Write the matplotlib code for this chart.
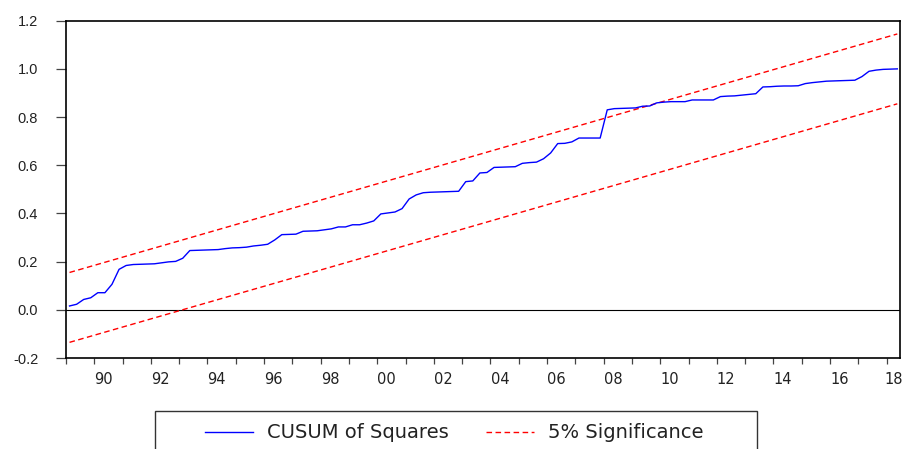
"""Recreates an EViews style CUSUM of squares stability plot."""

import matplotlib

matplotlib.use("Agg")

import matplotlib.pyplot as plt
import numpy as np
import pandas as pd
from matplotlib.lines import Line2D
from matplotlib.patches import Rectangle


# quarterly sample, 1989Q1 .. 2018Q2
START_QUARTER = "1989Q1"
CUSUM_SQ = [
    0.016, 0.023, 0.043, 0.050, 0.071, 0.071, 0.106, 0.168, 0.184, 0.188,
    0.189, 0.190, 0.191, 0.195, 0.199, 0.201, 0.214, 0.246, 0.247, 0.248,
    0.249, 0.250, 0.254, 0.257, 0.258, 0.260, 0.265, 0.268, 0.272, 0.290,
    0.312, 0.313, 0.314, 0.326, 0.327, 0.328, 0.332, 0.336, 0.344, 0.344,
    0.353, 0.353, 0.360, 0.369, 0.398, 0.402, 0.406, 0.420, 0.460, 0.477,
    0.486, 0.488, 0.489, 0.490, 0.491, 0.492, 0.532, 0.535, 0.568, 0.570,
    0.591, 0.592, 0.593, 0.594, 0.608, 0.611, 0.613, 0.627, 0.651, 0.690,
    0.691, 0.697, 0.713, 0.713, 0.713, 0.713, 0.830, 0.835, 0.836, 0.837,
    0.838, 0.845, 0.846, 0.859, 0.862, 0.864, 0.864, 0.864, 0.871, 0.871,
    0.871, 0.871, 0.885, 0.887, 0.888, 0.891, 0.894, 0.897, 0.925, 0.926,
    0.928, 0.929, 0.929, 0.930, 0.939, 0.943, 0.946, 0.949, 0.950, 0.951,
    0.952, 0.953, 0.968, 0.990, 0.995, 0.998, 0.999, 1.000,
]
# 5% significance bounds at first and last observation
UPPER_BOUND = [0.155, 1.145]
LOWER_BOUND = [-0.135, 0.855]
TICK_YEARS = list(range(1989, 2019))
LABEL_YEARS = list(range(1990, 2019, 2))
Y_TICKS = [-0.2, 0.0, 0.2, 0.4, 0.6, 0.8, 1.0, 1.2]

FIG_W, FIG_H = 905, 449
DPI = 100


def quarter_positions(start: str, count: int) -> np.ndarray:
    """Converts quarters to fractional years placed mid quarter."""
    periods = pd.period_range(start, periods=count, freq="Q")
    return np.array([p.year + (p.quarter - 0.5) / 4 for p in periods])


def main():
    x = quarter_positions(START_QUARTER, len(CUSUM_SQ))
    fig = plt.figure(figsize=(FIG_W / DPI, FIG_H / DPI), dpi=DPI)
    ax = fig.add_axes((66 / FIG_W, 1 - 358 / FIG_H, (900 - 66) / FIG_W, (358 - 20.7) / FIG_H))

    ax.axhline(0, color="black", linewidth=0.8, zorder=1)
    ax.plot(x, CUSUM_SQ, color="#0000FF", linewidth=1.0, zorder=3)
    bound_x = [x[0], x[-1]]
    ax.plot(bound_x, UPPER_BOUND, color="#FF0000", linewidth=1.0, dashes=(4, 2.5), zorder=2)
    ax.plot(bound_x, LOWER_BOUND, color="#FF0000", linewidth=1.0, dashes=(4, 2.5), zorder=2)

    ax.set_xlim(1989.0, 2018.47)
    ax.set_ylim(-0.2, 1.2)
    for spine in ax.spines.values():
        spine.set_color("black")
        spine.set_linewidth(1.2)

    ax.set_yticks(Y_TICKS, labels=[f"{v:.1f}" for v in Y_TICKS], fontfamily="Liberation Sans", fontsize=10.5)
    ax.tick_params(axis="y", length=7, width=0.9, color="#444444", pad=13, labelcolor="#222222")

    # year ticks at year starts, labels sit a third into the year
    ax.set_xticks(TICK_YEARS, labels=[])
    label_pos = [y + (0.25 if y == 2018 else 0.33) for y in LABEL_YEARS]
    ax.set_xticks(label_pos, labels=[f"{y % 100:02d}" for y in LABEL_YEARS], minor=True,
                  fontfamily="DejaVu Sans", fontsize=10.5)
    ax.tick_params(axis="x", which="major", length=4.5, width=0.9, color="#444444")
    ax.tick_params(axis="x", which="minor", length=0, pad=10, labelcolor="#222222")

    handles = [Line2D([], [], color="#0000FF", linewidth=1.0),
               Line2D([], [], color="#FF0000", linewidth=1.0, dashes=(4, 2.5))]
    fig.legend(handles, ["CUSUM of Squares", "5% Significance"], loc="center left",
               bbox_to_anchor=(195 / FIG_W, 1 - 433 / FIG_H), ncol=2, frameon=False,
               prop={"family": "DejaVu Sans", "size": 14}, handlelength=2.5,
               handletextpad=0.7, columnspacing=1.9, borderpad=0, labelcolor="#222222")
    fig.patches.append(Rectangle((155 / FIG_W, -0.1), (757 - 155) / FIG_W, 0.1 + 1 - 410.7 / FIG_H,
                                 transform=fig.transFigure, fill=False, edgecolor="#333333",
                                 linewidth=1.0, clip_on=False))

    fig.savefig("out.png", dpi=DPI)


if __name__ == "__main__":
    main()
